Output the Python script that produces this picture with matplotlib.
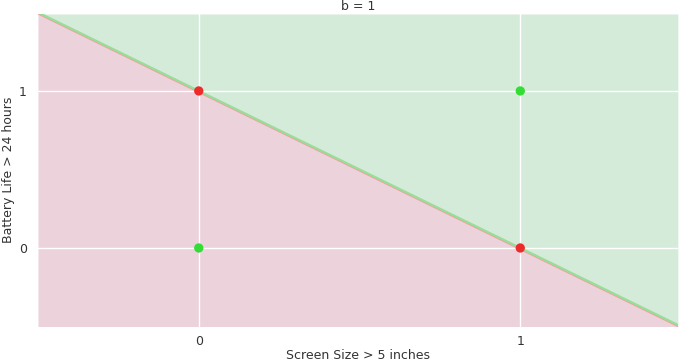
import numpy as np
import matplotlib.pyplot as plt

# inputs and labels (XOR-like points)
screen = [0, 1, 0, 1]
battery = [0, 0, 1, 1]
labels = [1, 0, 0, 1]   # 1 = green, 0 = red
b = 1

# decision boundary x2 = b - x1, grid range of the plot
x_range = [-0.5, 1.49]
y_range = [-0.5, 1.49]

fig = plt.figure(figsize=(6.93, 3.63), dpi=100)
ax = fig.add_axes([38 / 693, 1 - 326.5 / 363, (677.8 - 38) / 693, (326.5 - 14) / 363])
ax.set_facecolor('white')

xs = np.array(x_range)
ys = b - xs
ax.fill_between(xs, ys, y_range[1], color='#d3ebd8', zorder=0, lw=0)
ax.fill_between(xs, y_range[0], ys, color='#ecd2da', zorder=0, lw=0)

ax.grid(True, color='white', lw=1.0, zorder=1)
ax.set_axisbelow(False)

ax.plot(xs, ys - 0.008, color='#f2a0a0', lw=1.2, zorder=2)
ax.plot(xs, ys, color='#98dd98', lw=1.6, zorder=2)

cols = ['#33dd33' if l == 1 else '#ee2b2b' for l in labels]
ax.scatter(screen, battery, c=cols, s=45, zorder=3, edgecolors='none')

ax.set_xlim(x_range)
ax.set_ylim(y_range)
ax.set_xticks([0, 1])
ax.set_yticks([0, 1])
for s in ax.spines.values():
    s.set_visible(False)
ax.tick_params(axis='x', length=0, colors='#333333', labelsize=9, pad=6)
ax.tick_params(axis='y', length=0, colors='#333333', labelsize=9, pad=8)
ax.set_xlabel('Screen Size > 5 inches', fontsize=9, color='#333333', labelpad=1)
ax.set_ylabel('Battery Life > 24 hours', fontsize=9, color='#333333', labelpad=3)
ax.set_title('b = %d' % b, fontsize=9, color='#333333', pad=3)

fig.savefig('out.png', dpi=100)
